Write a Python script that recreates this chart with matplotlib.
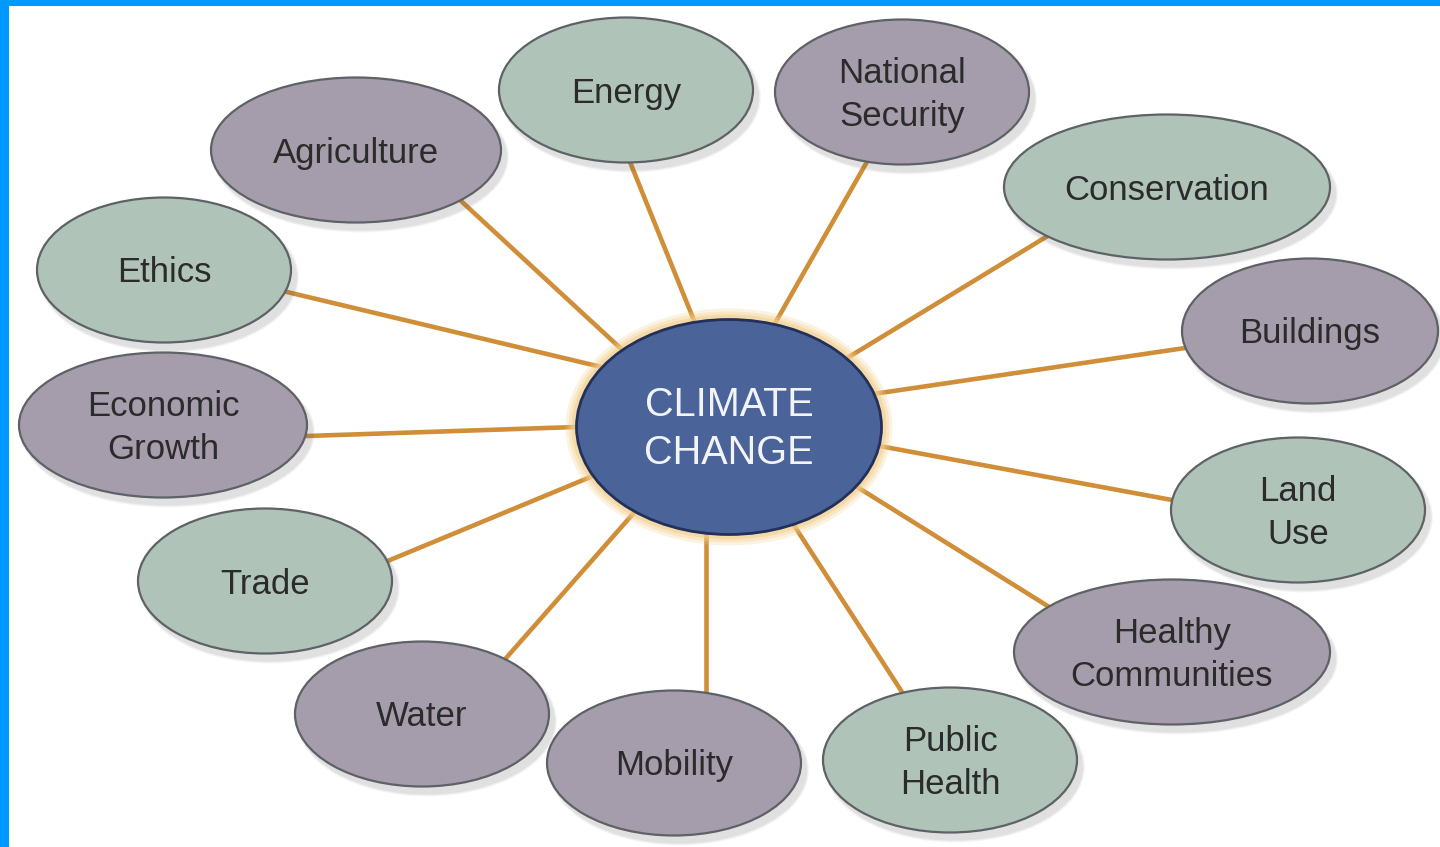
import matplotlib
matplotlib.use("Agg")
import matplotlib.pyplot as plt
from matplotlib.patches import Ellipse, Rectangle

# hub / topic data
hub_label = "CLIMATE\nCHANGE"
topics = [
    "Energy", "National\nSecurity", "Agriculture", "Conservation", "Ethics",
    "Buildings", "Economic\nGrowth", "Land\nUse", "Trade", "Healthy\nCommunities",
    "Water", "Mobility", "Public\nHealth",
]
kinds = ["g", "p", "p", "g", "g", "p", "p", "g", "g", "p", "p", "p", "g"]

# layout (pixels, y down)
hub_xy = (729, 427)
hub_size = (305, 215)
node_x = [626, 902, 356, 1167, 164, 1310, 163, 1298, 265, 1172, 422, 674, 950]
node_y = [90, 92, 150, 187, 270, 331, 425, 510, 581, 652, 714, 763, 760]
node_w = [254, 254, 290, 326, 254, 256, 288, 254, 254, 316, 254, 254, 254]
node_h = 145
# spoke ends: on the hub side and on the bubble side
hub_end_x = [693, 778, 617, 857, 593, 880, 576, 885, 588, 862, 632, 706, 797]
hub_end_y = [318, 318, 345, 352, 365, 393, 427, 447, 478, 490, 515, 537, 530]
node_end_x = [630, 868, 460, 1046, 287, 1185, 307, 1172, 390, 1046, 507, 706, 902]
node_end_y = [162, 160, 200, 237, 292, 348, 436, 500, 560, 605, 657, 690, 692]

fills = {"g": "#AFC3B9", "p": "#A59DAB"}
W, H = 1440, 847

fig = plt.figure(figsize=(W / 100, H / 100), dpi=100)
ax = fig.add_axes([0, 0, 1, 1])
ax.set_xlim(0, W)
ax.set_ylim(H, 0)
ax.axis("off")


def shadowed_ellipse(x, y, w, h, face, edge, z):
    for i, a in enumerate([0.05, 0.06, 0.08]):
        grow = 6 - 2 * i
        ax.add_patch(Ellipse((x + 5, y + 7), w + grow, h + grow, facecolor="#555555",
                             edgecolor="none", alpha=a, zorder=z - 0.5))
    ax.add_patch(Ellipse((x, y), w, h, facecolor=face, edgecolor=edge,
                         linewidth=1.6, zorder=z))


# spokes, pushed a little under both ellipses
for x0, y0, x1, y1 in zip(hub_end_x, hub_end_y, node_end_x, node_end_y):
    dx, dy = x1 - x0, y1 - y0
    ax.plot([x0 - 0.06 * dx, x1 + 0.04 * dx], [y0 - 0.06 * dy, y1 + 0.04 * dy],
            color="#D08E38", linewidth=3.3, solid_capstyle="butt", zorder=1)

# topic bubbles
for label, k, x, y, w in zip(topics, kinds, node_x, node_y, node_w):
    shadowed_ellipse(x, y, w, node_h, fills[k], "#5E6266", 3)
    ax.text(x, y + 3, label, ha="center", va="center", fontsize=25,
            family="Liberation Sans", color="#2B2B2B", linespacing=1.38, zorder=4)

# hub with warm glow
for i, a in enumerate([0.25, 0.35, 0.5]):
    grow = 22 - 6 * i
    ax.add_patch(Ellipse(hub_xy, hub_size[0] + grow, hub_size[1] + grow,
                         facecolor="#F3D08E", edgecolor="none", alpha=a, zorder=5))
ax.add_patch(Ellipse(hub_xy, hub_size[0], hub_size[1], facecolor="#4A6398",
                     edgecolor="#22305A", linewidth=2, zorder=6))
ax.text(hub_xy[0], hub_xy[1] + 2, hub_label, ha="center", va="center", fontsize=28.5,
        family="Liberation Sans", color="#F2F4FA", linespacing=1.3, zorder=7)

# blue frame
ax.add_patch(Rectangle((0, 0), 9, H, facecolor="#0099FF", edgecolor="none", zorder=10))
ax.add_patch(Rectangle((0, 0), W, 6, facecolor="#0099FF", edgecolor="none", zorder=10))

fig.savefig("out.png", dpi=100, facecolor="white")
